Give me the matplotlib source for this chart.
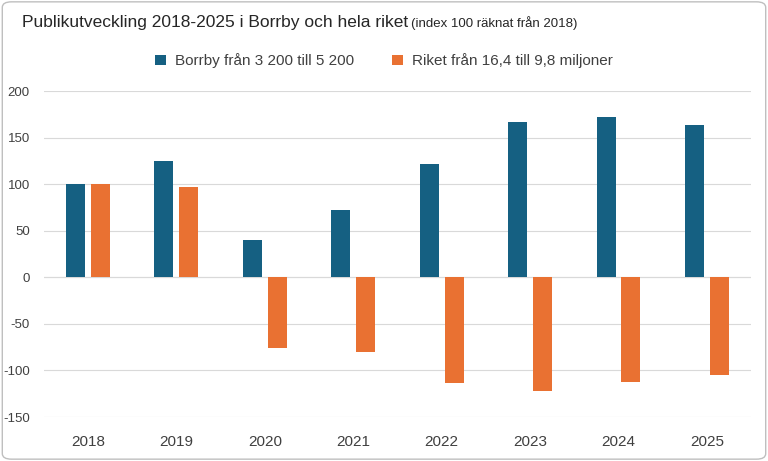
import matplotlib
matplotlib.use("Agg")
import matplotlib.pyplot as plt
from matplotlib.patches import FancyBboxPatch
import numpy as np

years = ["2018", "2019", "2020", "2021", "2022", "2023", "2024", "2025"]
borrby = [100, 125, 40, 72, 122, 167, 172, 164]
riket = [100, 97, -76, -80, -114, -122, -112, -105]
yticks = [-150, -100, -50, 0, 50, 100, 150, 200]

BLUE = "#156082"
ORANGE = "#E97132"
FONT = "Liberation Sans"

fig = plt.figure(figsize=(7.68, 4.61), dpi=100)
fig.patches.append(FancyBboxPatch((0.003, 0.004), 0.994, 0.992,
                                  boxstyle="round,pad=0,rounding_size=0.012",
                                  transform=fig.transFigure, fc="white",
                                  ec="#BFBFBF", lw=1.0, zorder=-1))
ax = fig.add_axes([0.057, 0.0954, 0.921, 0.707])
x = np.arange(len(years))
w = 0.215
off = 0.141
ax.bar(x - off, borrby, w, color=BLUE, label="Borrby från 3 200 till 5 200", zorder=3)
ax.bar(x + off, riket, w, color=ORANGE, label="Riket från 16,4 till 9,8 miljoner", zorder=3)

ax.set_xlim(-0.5, len(years) - 0.5)
ax.set_ylim(-150, 200)
ax.set_yticks(yticks)
ax.set_yticklabels([str(v) for v in yticks], fontsize=9.5, family=FONT, color="#404040")
ax.set_xticks(x)
ax.set_xticklabels(years, fontsize=11, family=FONT, color="#404040")
ax.tick_params(length=0)
ax.tick_params(axis="x", pad=13)
ax.tick_params(axis="y", pad=10)
ax.grid(axis="y", color="#D9D9D9", lw=0.8, zorder=0)
ax.axhline(0, color="#D9D9D9", lw=0.8, zorder=2)
for sp in ax.spines.values():
    sp.set_visible(False)
ax.set_facecolor("none")

fig.text(408 / 768, 1 - 22 / 461, "Publikutveckling 2018-2025 i Borrby och hela riket",
         ha="right", va="center", fontsize=12.5, family=FONT, color="#262626")
fig.text(411 / 768, 1 - 23 / 461, "(index 100 räknat från 2018)",
         ha="left", va="center", fontsize=9.5, family=FONT, color="#262626")

fig.legend(loc="center", bbox_to_anchor=(0.5, 1 - 61 / 461), ncol=2, frameon=False,
           prop={"family": FONT, "size": 11}, handlelength=0.7, handleheight=0.7,
           columnspacing=2.5, handletextpad=0.6, labelcolor="#404040")

fig.savefig("out.png", dpi=100)
